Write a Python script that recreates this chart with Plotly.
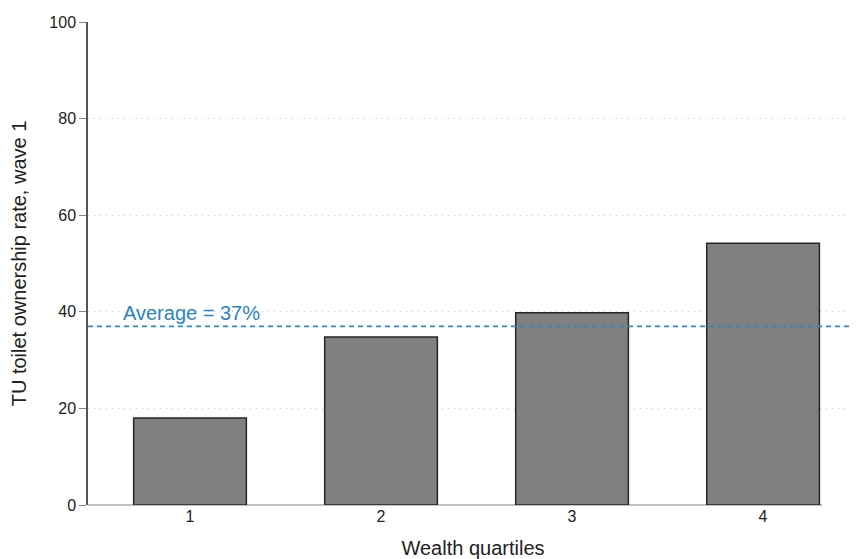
import plotly.graph_objects as go

quartiles = [1, 2, 3, 4]
rates = [18.0, 34.8, 39.8, 54.2]
average = 37
tick_vals_y = [0, 20, 40, 60, 80, 100]

FONT = "Liberation Sans, Arial"

fig = go.Figure()
fig.add_trace(go.Bar(
    x=quartiles, y=rates, width=0.59,
    marker=dict(color="#808080", line=dict(color="#262626", width=1.5)),
    showlegend=False,
))

fig.add_hline(y=average, line=dict(color="#2b8cc4", width=1.7, dash="5px,4px"), layer="above")
fig.add_annotation(
    x=0.043, xref="paper", xanchor="left",
    y=average, yref="y", yanchor="bottom", yshift=0,
    text=f"Average = {average}%", showarrow=False,
    font=dict(color="#2a83c4", size=20, family=FONT),
)
# x-axis baseline (light gray) spanning to last bar
fig.add_shape(type="line", xref="x", yref="paper", x0=0.466, x1=4.31, y0=0, y1=0,
              line=dict(color="#c0c0c0", width=2), layer="below")

fig.update_layout(
    width=850, height=551,
    margin=dict(l=80, r=0, t=14, b=54, autoexpand=False),
    paper_bgcolor="white", plot_bgcolor="white",
    font=dict(family=FONT, size=16, color="#222"),
)
fig.update_xaxes(
    range=[0.466, 4.497], tickvals=quartiles, ticktext=[str(q) for q in quartiles],
    showgrid=False, zeroline=False, showline=False, ticks="",
    title=dict(text="Wealth quartiles", font=dict(size=20), standoff=16),
    tickfont=dict(size=16), automargin=False,
)
fig.update_yaxes(
    range=[0, 100], tickvals=tick_vals_y,
    showgrid=True, gridcolor="#c8c8c8", griddash="1px,5px", gridwidth=1,
    zeroline=False, showline=True, linecolor="#555", linewidth=1.5,
    ticks="outside", ticklen=7, tickcolor="#888",
    title=dict(text="TU toilet ownership rate, wave 1", font=dict(size=20), standoff=17),
    tickfont=dict(size=16), automargin=False,
)

fig.write_html("out.html")
